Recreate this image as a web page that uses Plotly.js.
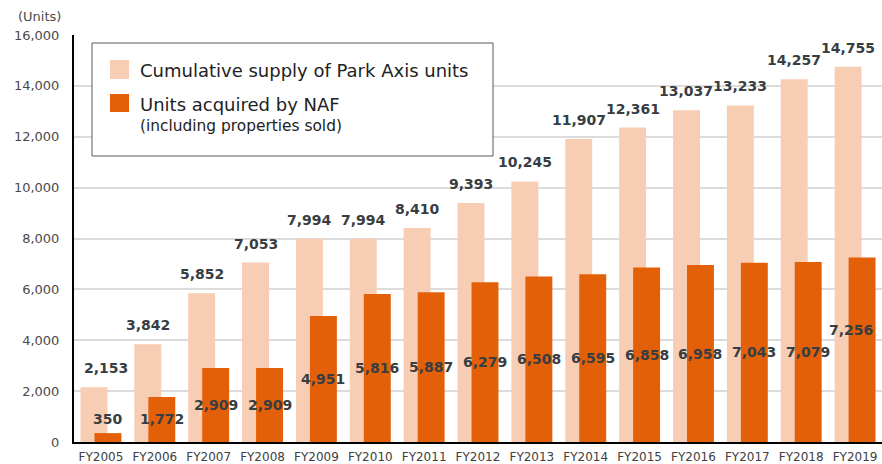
<!DOCTYPE html>
<html>
<head>
<meta charset="utf-8">
<script src="https://cdn.plot.ly/plotly-3.0.1.min.js"></script>
<style>
  html, body { margin: 0; padding: 0; background: #fff; }
  #chart { width: 882px; height: 464px; }
</style>
</head>
<body>
<div id="chart"></div>
<script>
// ---- data ----
const categories = ["FY2005","FY2006","FY2007","FY2008","FY2009","FY2010","FY2011","FY2012","FY2013","FY2014","FY2015","FY2016","FY2017","FY2018","FY2019"];
const cumulativeSupply = [2153, 3842, 5852, 7053, 7994, 7994, 8410, 9393, 10245, 11907, 12361, 13037, 13233, 14257, 14755];
const acquiredByNAF = [350, 1772, 2909, 2909, 4951, 5816, 5887, 6279, 6508, 6595, 6858, 6958, 7043, 7079, 7256];
const seriesNames = ["Cumulative supply of Park Axis units", "Units acquired by NAF", "(including properties sold)"];
const yTicks = [0, 2000, 4000, 6000, 8000, 10000, 12000, 14000, 16000];

// ---- styling ----
const LIGHT = "#F7CDB3";
const DARK = "#E36009";
const LABEL = "#383D42";
const FONT = "DejaVu Sans, Verdana, sans-serif";
const W = 882, H = 464;
const M = {l: 74, r: 0, t: 35, b: 22};
const pw = W - M.l - M.r, ph = H - M.t - M.b;
const px = x => (x - M.l) / pw;
const py = y => (H - M.b - y) / ph;
const fmt = v => v.toLocaleString("en-US");
const unit = pw / categories.length;
const BAR_W = 0.5, LIGHT_OFF = -0.38, DARK_OFF = -0.12;
const lightShift = (LIGHT_OFF + BAR_W / 2) * unit;
const darkShift = (DARK_OFF + BAR_W / 2) * unit;
const labelFont = {family: FONT, size: 14, color: LABEL, weight: "bold"};

const traces = [
  {
    type: "bar", x: categories, y: cumulativeSupply, name: seriesNames[0],
    marker: {color: LIGHT}, width: BAR_W, offset: LIGHT_OFF, hoverinfo: "x+y"
  },
  {
    type: "bar", x: categories, y: acquiredByNAF, name: seriesNames[1],
    marker: {color: DARK}, width: BAR_W, offset: DARK_OFF, hoverinfo: "x+y"
  }
];

// value labels, placed through the axes
const valueLabels = [];
cumulativeSupply.forEach((v, i) => {
  const ann = {
    xref: "x", yref: "y", x: categories[i], y: v, text: fmt(v), showarrow: false,
    xanchor: "center", yanchor: "bottom", xshift: lightShift, yshift: 9, font: labelFont
  };
  const centerPx = M.l + (i + 0.5) * unit + lightShift;
  if (centerPx - 22 < M.l + 8) {          // keep clear of the y axis line
    ann.xanchor = "left";
    ann.xshift = (M.l + 8) - (M.l + (i + 0.5) * unit);
  }
  valueLabels.push(ann);
});
acquiredByNAF.forEach((v, i) => {
  const inside = v > 1000;
  const ann = {
    xref: "x", yref: "y", x: categories[i], y: inside ? v / 2 : v, text: fmt(v), showarrow: false,
    xanchor: "center", yanchor: inside ? "middle" : "bottom",
    xshift: darkShift, yshift: inside ? 0 : 4, font: labelFont
  };
  const centerPx = M.l + (i + 0.5) * unit + darkShift;
  if (centerPx + 24 > W - 6) {           // keep the last label inside the picture
    ann.xanchor = "right";
    ann.xshift = (W - 7) - (M.l + (i + 0.5) * unit);
    ann.yshift = 20;
  }
  valueLabels.push(ann);
});

const layout = {
  width: W, height: H,
  margin: M,
  paper_bgcolor: "#fff", plot_bgcolor: "#fff",
  barmode: "overlay",
  showlegend: false,
  font: {family: FONT, color: "#444"},
  xaxis: {
    type: "category", range: [-0.5, 14.5],
    showline: true, linecolor: "#000", linewidth: 2,
    showgrid: false, ticks: "", automargin: false,
    tickfont: {family: FONT, size: 12, color: "#404040"},
    ticklabelstandoff: 3
  },
  yaxis: {
    range: [0, 16000], tickvals: yTicks, ticktext: yTicks.map(fmt),
    showline: true, linecolor: "#000", linewidth: 2,
    showgrid: true, gridcolor: "#DCDCDC", gridwidth: 2,
    zeroline: false, ticks: "", automargin: false,
    tickfont: {family: FONT, size: 13, color: "#4a4a4a"},
    ticklabelstandoff: 10
  },
  shapes: [
    {type: "rect", xref: "paper", yref: "paper", x0: px(92), x1: px(493), y0: py(156), y1: py(43),
     line: {color: "#5a5a5a", width: 1}, fillcolor: "#fff", layer: "above"},
    {type: "rect", xref: "paper", yref: "paper", x0: px(110), x1: px(129), y0: py(79), y1: py(60),
     line: {width: 0}, fillcolor: LIGHT, layer: "above"},
    {type: "rect", xref: "paper", yref: "paper", x0: px(110), x1: px(129), y0: py(112), y1: py(94),
     line: {width: 0}, fillcolor: DARK, layer: "above"}
  ],
  annotations: [
    {text: "(Units)", xref: "paper", yref: "paper", x: px(16), y: py(17), xanchor: "left", yanchor: "middle",
     showarrow: false, font: {family: FONT, size: 13, color: "#4a4a4a"}},
    {text: seriesNames[0], xref: "paper", yref: "paper", x: px(138), y: py(71), xanchor: "left", yanchor: "middle",
     showarrow: false, font: {family: FONT, size: 18, color: "#222"}},
    {text: seriesNames[1], xref: "paper", yref: "paper", x: px(138), y: py(105), xanchor: "left", yanchor: "middle",
     showarrow: false, font: {family: FONT, size: 18, color: "#222"}},
    {text: seriesNames[2], xref: "paper", yref: "paper", x: px(138), y: py(126), xanchor: "left", yanchor: "middle",
     showarrow: false, font: {family: FONT, size: 15.4, color: "#222"}}
  ].concat(valueLabels)
};

Plotly.newPlot("chart", traces, layout, {displayModeBar: false, staticPlot: true});
</script>
</body>
</html>
